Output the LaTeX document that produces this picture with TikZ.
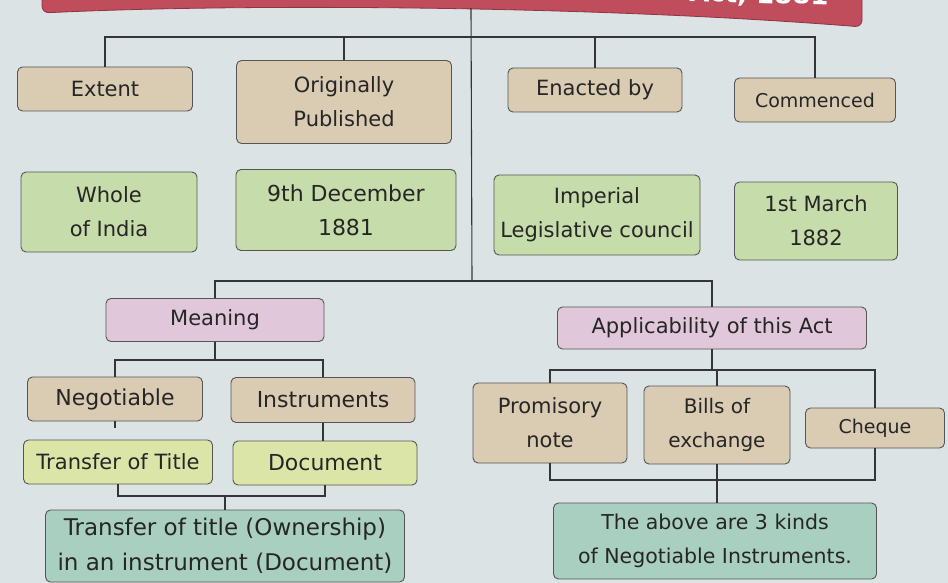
\documentclass[tikz,border=0pt]{standalone}
\usepackage{fontspec}
\setmainfont{DejaVu Sans}
\definecolor{paper}{HTML}{DCE3E5}
\definecolor{tanfill}{HTML}{DACBB3}
\definecolor{greenfill}{HTML}{C6DCAA}
\definecolor{pinkfill}{HTML}{E0C8DA}
\definecolor{yellowfill}{HTML}{DCE5A8}
\definecolor{tealfill}{HTML}{A9CFC1}
\definecolor{boxline}{HTML}{555555}
\definecolor{wire}{HTML}{353535}
\definecolor{ink}{HTML}{262626}
\definecolor{bannerred}{HTML}{BF4D5C}
\definecolor{banneredge}{HTML}{8E3444}
\begin{document}
\begin{tikzpicture}[x=1pt,y=-1pt,
  box/.style={draw=boxline, line width=0.9pt, rounded corners=5pt, align=center,
    inner sep=2pt, text=ink, font=\fontsize{21}{34}\selectfont},
  tanbox/.style={box, fill=tanfill},
  greenbox/.style={box, fill=greenfill},
  pinkbox/.style={box, fill=pinkfill},
  yellowbox/.style={box, fill=yellowfill},
  tealbox/.style={box, fill=tealfill},
  link/.style={draw=wire, line width=1.1pt},
  sz/.style n args={2}{minimum width=#1, minimum height=#2}]

% page
\clip (0,0) rectangle (948,583);
\fill[paper] (0,0) rectangle (948,583);

% title banner (runs off the top edge)
\draw[banneredge, fill=bannerred, line width=0.8pt, rounded corners=7pt]
  (42,-40) -- (42,13) .. controls (250,3) and (600,6) .. (862,27) -- (862,-40) -- cycle;
\node[rotate=-1.5, anchor=base east, text=white,
  font=\bfseries\fontsize{26}{30}\selectfont] (titletext) at (832,5) {Act, 1881};
\coordinate (bannerfoot) at (471,8);

% facts about the Act
\node[tanbox, sz={175}{44}] (extent) at (105,89) {Extent};
\node[tanbox, sz={215}{83}] (pub) at (344,102) {Originally\\Published};
\node[tanbox, sz={174}{44}] (ena) at (595,90) {Enacted by};
\node[tanbox, sz={161}{44}, font=\fontsize{19}{34}\selectfont] (com) at (815,100) {Commenced};

\node[greenbox, sz={176}{80}] (whole) at (109,212) {Whole\\of India};
\node[greenbox, sz={220}{81}, font=\fontsize{22}{34}\selectfont] (dec) at (346,210) {9th December\\1881};
\node[greenbox, sz={206}{80}] (imp) at (597,215) {Imperial\\Legislative council};
\node[greenbox, sz={163}{78}] (mar) at (816,221) {1st March\\1882};

% meaning and applicability
\coordinate (hub) at (472,281);
\node[pinkbox, sz={218}{43}] (mea) at (215,320) {Meaning};
\node[pinkbox, sz={309}{42}] (app) at (712,328) {Applicability of this Act};

\node[tanbox, sz={175}{44}, font=\fontsize{22}{34}\selectfont] (neg) at (115,399) {Negotiable};
\node[tanbox, sz={184}{45}, font=\fontsize{22}{34}\selectfont] (ins) at (323,400) {Instruments};
\node[yellowbox, sz={189}{44}] (tot) at (118,462) {Transfer of Title};
\node[yellowbox, sz={184}{44}, font=\fontsize{22}{34}\selectfont] (doc) at (325,463) {Document};
\node[tealbox, sz={359}{72}, font=\fontsize{23}{35}\selectfont] (own) at (225,546)
  {Transfer of title (Ownership)\\in an instrument (Document)};

\node[tanbox, sz={154}{80}] (prom) at (550,423) {Promisory\\note};
\node[tanbox, sz={146}{78}, font=\fontsize{20}{34}\selectfont] (bill) at (717,425) {Bills of\\exchange};
\node[tanbox, sz={139}{40}, font=\fontsize{19}{34}\selectfont] (chq) at (875,428) {Cheque};
\node[tealbox, sz={323}{76}, font=\fontsize{20.5}{34}\selectfont] (kinds) at (715,541)
  {The above are 3 kinds\\of Negotiable Instruments.};

% connectors
\coordinate (busT) at (470,37);
\draw[link] (bannerfoot) -- (hub);
\draw[link] (extent.north) -- (extent.north |- busT) -- (com.north |- busT) -- (com.north);
\draw[link] (pub.north) -- (pub.north |- busT);
\draw[link] (ena.north) -- (ena.north |- busT);

\draw[link] (mea.north) -- (mea.north |- hub) -- (app.north |- hub) -- (app.north);

\coordinate (mbus) at (215,360);
\draw[link] (mea.south) -- (mbus);
\draw[link] (neg.north) -- (neg.north |- mbus) -- (ins.north |- mbus) -- (ins.north);
\draw[link] (neg.south) -- ++(0,7);
\draw[link] (ins.south) -- (ins.south |- doc.north);
\coordinate (lbus) at (221,496);
\draw[link] (tot.south) -- (tot.south |- lbus) -- (doc.south |- lbus) -- (doc.south);
\draw[link] (own.north) -- (own.north |- lbus);

\coordinate (rbus) at (717,370);
\draw[link] (app.south) -- (app.south |- rbus);
\draw[link] (prom.north) -- (prom.north |- rbus) -- (chq.north |- rbus) -- (chq.north);
\draw[link] (bill.north) -- (bill.north |- rbus);
\coordinate (rbus2) at (719,480);
\draw[link] (prom.south) -- (prom.south |- rbus2) -- (chq.south |- rbus2) -- (chq.south);
\draw[link] (bill.south) -- (bill.south |- kinds.north);
\end{tikzpicture}
\end{document}
